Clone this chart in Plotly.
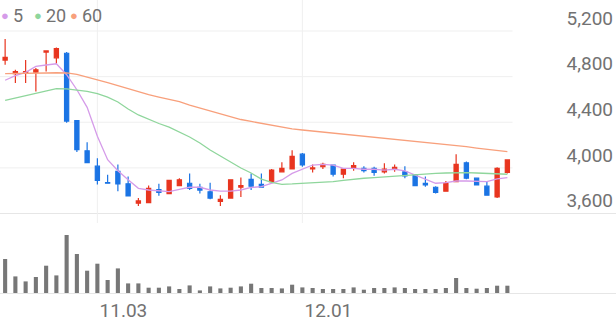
import plotly.graph_objects as go

dates = ["10.21", "10.22", "10.23", "10.24", "10.27", "10.28", "10.29", "10.30", "10.31",
         "11.03", "11.04", "11.05", "11.06", "11.07", "11.10", "11.11", "11.12", "11.13",
         "11.14", "11.17", "11.18", "11.19", "11.20", "11.21", "11.24", "11.25", "11.26",
         "11.27", "11.28", "12.01", "12.02", "12.03", "12.04", "12.05", "12.08", "12.09",
         "12.10", "12.11", "12.12", "12.15", "12.16", "12.17", "12.18", "12.19", "12.22",
         "12.23", "12.24", "12.26", "12.29", "12.30"]

opens = [4945, 4825, 4830, 4840, 5015, 4965, 5005, 4415, 4150, 4015,
         3870, 3970, 3860, 3690, 3695, 3810, 3775, 3845, 3865, 3830,
         3790, 3705, 3735, 3830, 3900, 3855, 3880, 3965, 3990, 4120,
         3990, 4010, 4025, 3945, 4000, 3995, 3995, 3965, 3990, 3965,
         3940, 3865, 3830, 3795, 3880, 4045, 3910, 3840, 3745, 3960]
highs = [5130, 4860, 4945, 4875, 5025, 5055, 5015, 4415, 4225, 4085,
         3940, 4030, 3925, 3735, 3845, 3860, 3895, 3910, 3950, 3860,
         3870, 3760, 3900, 3915, 3950, 3950, 3990, 4050, 4155, 4130,
         4030, 4045, 4030, 3995, 4050, 4015, 4010, 4040, 4030, 4015,
         3945, 3925, 3840, 3885, 4120, 4055, 3915, 3880, 4005, 4075]
lows = [4905, 4745, 4745, 4670, 4845, 4910, 4395, 4140, 4045, 3855,
        3865, 3795, 3750, 3665, 3690, 3755, 3770, 3840, 3805, 3775,
        3725, 3665, 3735, 3745, 3805, 3830, 3865, 3960, 3990, 4010,
        3960, 3990, 3925, 3910, 3975, 3960, 3930, 3950, 3965, 3910,
        3840, 3835, 3775, 3790, 3880, 3900, 3845, 3755, 3735, 3950]
closes = [4970, 4845, 4845, 4860, 5025, 5045, 4410, 4160, 4045, 3890,
          3865, 3860, 3755, 3710, 3820, 3785, 3890, 3895, 3820, 3805,
          3735, 3725, 3895, 3845, 3840, 3830, 3980, 3995, 4100, 4025,
          4000, 4030, 3945, 3990, 4020, 3975, 3960, 3990, 4005, 3930,
          3845, 3850, 3785, 3865, 4030, 3910, 3850, 3760, 3995, 4070]

ma5 = [4768, 4808, 4838, 4890, 4902, 4913, 4817, 4685, 4531, 4277,
       4072, 3975, 3896, 3821, 3806, 3797, 3791, 3812, 3830, 3830,
       3806, 3797, 3797, 3806, 3828, 3835, 3865, 3894, 3952, 3988,
       4025, 4031, 4025, 3996, 3996, 3988, 3988, 3981, 3988, 3973,
       3938, 3903, 3865, 3870, 3885, 3885, 3879, 3879, 3903, 3914]
ma20 = [4592, 4613, 4634, 4656, 4677, 4694, 4692, 4680, 4671, 4650,
        4621, 4578, 4516, 4464, 4424, 4389, 4358, 4315, 4271, 4218,
        4157, 4104, 4051, 3999, 3955, 3902, 3872, 3856, 3859, 3863,
        3867, 3874, 3879, 3891, 3902, 3909, 3914, 3920, 3929, 3938,
        3944, 3948, 3952, 3955, 3958, 3958, 3955, 3951, 3946, 3944]
ma60 = [4827, 4827, 4829, 4830, 4832, 4834, 4832, 4819, 4797, 4770,
        4748, 4722, 4696, 4665, 4643, 4621, 4599, 4580, 4551, 4525,
        4499, 4472, 4446, 4424, 4407, 4389, 4371, 4354, 4341, 4332,
        4323, 4314, 4306, 4297, 4288, 4277, 4266, 4256, 4247, 4239,
        4231, 4222, 4214, 4205, 4196, 4186, 4174, 4163, 4152, 4142]

volumes = [680000, 332000, 232000, 320000, 546000, 352000, 1160000, 780000, 446000, 586000,
           260000, 492000, 192000, 192000, 106000, 106000, 132000, 80000, 152000, 52000,
           132000, 92000, 106000, 132000, 186000, 100000, 100000, 92000, 166000, 112000,
           100000, 80000, 80000, 80000, 112000, 66000, 100000, 100000, 112000, 100000,
           80000, 80000, 80000, 100000, 300000, 100000, 86000, 100000, 146000, 146000]

ma_names = ["5", "20", "60"]
ma_colors = ["#d59be9", "#8fd69c", "#f8a07c"]
price_ticks = [3600, 4000, 4400, 4800, 5200]
price_tick_text = ["3,600", "4,000", "4,400", "4,800", "5,200"]
date_ticks = ["11.03", "12.01"]

RED = "#e8351f"
BLUE = "#1b74e4"
GRID = "#efefef"
LINE = "#e6e6e6"
TEXT = "#727272"
FONT = "Roboto"

fig = go.Figure()

for name, vals, col in zip(ma_names, [ma5, ma20, ma60], ma_colors):
    fig.add_trace(go.Scatter(x=dates, y=vals, mode="lines", name=name,
                             line=dict(color=col, width=1.3), showlegend=False,
                             xaxis="x", yaxis="y"))

fig.add_trace(go.Candlestick(
    x=dates, open=opens, high=highs, low=lows, close=closes,
    increasing=dict(line=dict(color=RED, width=1.2), fillcolor=RED),
    decreasing=dict(line=dict(color=BLUE, width=1.2), fillcolor=BLUE),
    showlegend=False, xaxis="x", yaxis="y"))

fig.add_trace(go.Bar(x=dates, y=volumes, marker=dict(color="#777777", line=dict(width=0)),
                     width=0.4, showlegend=False, xaxis="x2", yaxis="y2"))

n = len(dates)
xr = [-0.5, -0.5 + 616 / 10.25]

# price scale: 0.11406 px per won, 3600 sits at pixel 213.5, plot area 293 px tall
px_per_unit = 182.5 / 1600
price_bottom_px = 226
price_range = [3600 - (price_bottom_px - 213.5) / px_per_unit, 5200 + 31 / px_per_unit]

shapes = []
for t in price_ticks[1:]:
    shapes.append(dict(type="line", xref="x", yref="y", x0=-0.5, x1=n - 0.5, y0=t, y1=t,
                       line=dict(color=GRID, width=1), layer="below"))
shapes.append(dict(type="line", xref="paper", yref="y", x0=0, x1=1,
                   y0=price_ticks[0], y1=price_ticks[0],
                   line=dict(color=LINE, width=1), layer="below"))
for d in date_ticks:
    i = dates.index(d)
    shapes.append(dict(type="line", xref="x", yref="paper", x0=i, x1=i, y0=0, y1=1,
                       line=dict(color=GRID, width=1), layer="below"))

annotations = []
dot_x = [5, 38, 74]
for name, col, dx in zip(ma_names, ma_colors, dot_x):
    annotations.append(dict(xref="paper", yref="paper", x=0, y=1, xshift=dx, yshift=-15,
                            text="●", showarrow=False, xanchor="center", yanchor="middle",
                            font=dict(size=13, color=col, family=FONT)))
    annotations.append(dict(xref="paper", yref="paper", x=0, y=1, xshift=dx + 6, yshift=-15,
                            text=name, showarrow=False, xanchor="left", yanchor="middle",
                            font=dict(size=18, color=TEXT, family=FONT)))

fig.update_layout(
    width=616, height=321,
    margin=dict(l=0, r=0, t=0, b=28),
    paper_bgcolor="white", plot_bgcolor="white",
    font=dict(family=FONT, color=TEXT),
    boxgap=0.42,
    showlegend=False,
    xaxis=dict(type="category", range=xr, domain=[0, 1], anchor="y",
               showticklabels=False, showgrid=False, zeroline=False, showline=False,
               rangeslider=dict(visible=False), fixedrange=True),
    yaxis=dict(domain=[(293 - price_bottom_px) / 293, 1], range=price_range, anchor="x",
               side="right", ticklabelposition="inside",
               tickvals=price_ticks, ticktext=price_tick_text,
               ticklabelshift=-13,
               showgrid=False, zeroline=False, ticks="",
               tickfont=dict(size=19, color=TEXT, family=FONT)),
    xaxis2=dict(type="category", range=xr, domain=[0, 1], anchor="y2", matches="x",
                tickvals=date_ticks, ticktext=date_ticks, ticklabelshift=26,
                showgrid=False, zeroline=False, ticks="",
                showline=True, linecolor=LINE, linewidth=1,
                tickfont=dict(size=19, color=TEXT, family=FONT)),
    yaxis2=dict(domain=[0, 70 / 293], range=[0, 1400000], anchor="x2",
                showticklabels=False, showgrid=False, zeroline=False, ticks=""),
    shapes=shapes,
    annotations=annotations,
)

fig.write_html("out.html")
